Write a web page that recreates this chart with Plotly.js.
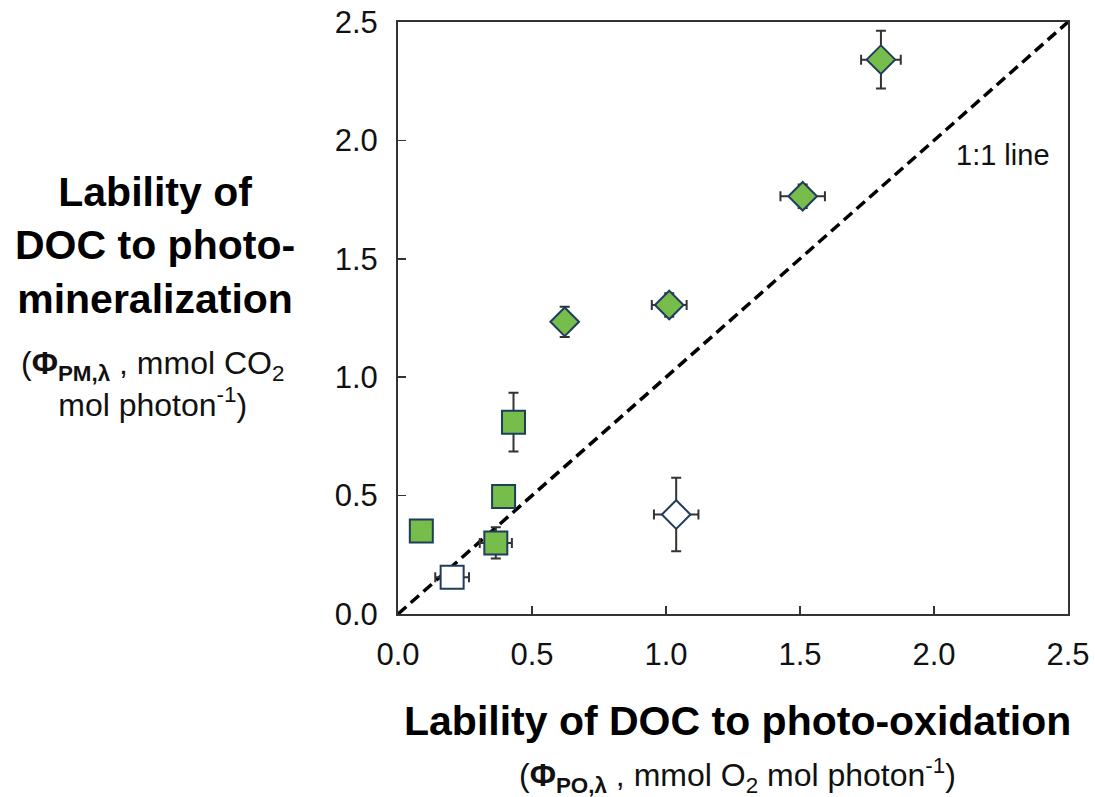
<!DOCTYPE html>
<html>
<head>
<meta charset="utf-8">
<script src="https://cdn.plot.ly/plotly-3.0.1.min.js"></script>
<style>html,body{margin:0;padding:0;background:#fff;}#chart{width:1095px;height:797px;}</style>
</head>
<body>
<div id="chart"></div>
<script>
// Green squares
const sqGreenX = [0.087, 0.394, 0.431, 0.365];
const sqGreenY = [0.351, 0.496, 0.810, 0.300];
const sqGreenErrX = [0, 0, 0, 0.060];
const sqGreenErrY = [0, 0, 0.124, 0.066];
// Open square
const sqOpenX = [0.202];
const sqOpenY = [0.155];
const sqOpenErrX = [0.063];
const sqOpenErrY = [0];
// Green diamonds
const diaGreenX = [0.622, 1.012, 1.510, 1.802];
const diaGreenY = [1.234, 1.305, 1.764, 2.341];
const diaGreenErrX = [0, 0.065, 0.083, 0.074];
const diaGreenErrY = [0.064, 0.05, 0.05, 0.122];
// Open diamond
const diaOpenX = [1.038];
const diaOpenY = [0.420];
const diaOpenErrX = [0.083];
const diaOpenErrY = [0.155];
// 1:1 line
const lineX = [0, 2.5];
const lineY = [0, 2.5];
const tickVals = [0, 0.5, 1.0, 1.5, 2.0, 2.5];
const tickText = ['0.0', '0.5', '1.0', '1.5', '2.0', '2.5'];

const FONT = '"Liberation Sans", Arial, Helvetica, sans-serif';
const GREEN = '#76BD4B';
const NAVY = '#1F3D5C';
const ERR = '#333333';

function errCfg(arr) {
  return {type: 'data', array: arr, visible: true, color: ERR, thickness: 2, width: 5};
}
function pts(x, y, ex, ey, symbol, fill, size) {
  return {
    x: x, y: y, type: 'scatter', mode: 'markers',
    error_x: errCfg(ex), error_y: errCfg(ey),
    marker: {symbol: symbol, size: size, color: fill, line: {color: NAVY, width: 2}},
    hoverinfo: 'x+y', showlegend: false
  };
}

const data = [
  {x: lineX, y: lineY, type: 'scatter', mode: 'lines',
   line: {color: '#000', width: 3.5, dash: '11px,6px'}, showlegend: false, hoverinfo: 'skip'},
  pts(sqGreenX, sqGreenY, sqGreenErrX, sqGreenErrY, 'square', GREEN, 23),
  pts(sqOpenX, sqOpenY, sqOpenErrX, sqOpenErrY, 'square', '#FFFFFF', 23),
  pts(diaGreenX, diaGreenY, diaGreenErrX, diaGreenErrY, 'diamond', GREEN, 22),
  pts(diaOpenX, diaOpenY, diaOpenErrX, diaOpenErrY, 'diamond', '#FFFFFF', 22)
];

const axisCommon = {
  range: [0, 2.5], tickvals: tickVals, ticktext: tickText,
  ticks: 'inside', ticklen: 8, tickwidth: 1.5, tickcolor: '#333',
  showline: true, linecolor: '#333', linewidth: 2, mirror: true,
  showgrid: false, zeroline: false,
  tickfont: {family: FONT, size: 31, color: '#111'}
};

const layout = {
  width: 1095, height: 797,
  margin: {l: 398, r: 27, t: 22, b: 183},
  paper_bgcolor: '#fff', plot_bgcolor: '#fff',
  font: {family: FONT, color: '#000'},
  xaxis: Object.assign({}, axisCommon, {ticklabelstandoff: 12}),
  yaxis: Object.assign({}, axisCommon, {ticklabelstandoff: 12}),
  showlegend: false,
  annotations: [
    {text: '1:1 line', xref: 'x', yref: 'y', x: 2.257, y: 1.938, showarrow: false,
     xanchor: 'center', yanchor: 'middle', font: {family: FONT, size: 29, color: '#111'}},
    {text: '<b>Lability of DOC to photo-oxidation</b>', xref: 'paper', yref: 'paper',
     x: 0.506, y: -0.1807, showarrow: false, xanchor: 'center', yanchor: 'middle',
     font: {family: FONT, size: 41, color: '#000'}},
    {text: '(<b>Φ<sub>PO,λ</sub></b> , mmol O<sub>2</sub> mol photon<sup>-1</sup>)', xref: 'paper', yref: 'paper',
     x: 0.506, y: -0.2736, showarrow: false, xanchor: 'center', yanchor: 'middle',
     font: {family: FONT, size: 32, color: '#111'}},
    {text: '<b>Lability of<br>DOC to photo-<br>mineralization</b>', xref: 'paper', yref: 'paper',
     x: -0.3627, y: 0.623, showarrow: false, xanchor: 'center', yanchor: 'middle', align: 'center',
     font: {family: FONT, size: 41, color: '#000'}},
    {text: '(<b>Φ<sub>PM,λ</sub></b> , mmol CO<sub>2</sub><br>mol photon<sup>-1</sup>)', xref: 'paper', yref: 'paper',
     x: -0.3657, y: 0.389, showarrow: false, xanchor: 'center', yanchor: 'middle', align: 'center',
     font: {family: FONT, size: 32, color: '#111'}}
  ]
};

Plotly.newPlot('chart', data, layout, {displayModeBar: false, staticPlot: true});
</script>
</body>
</html>
